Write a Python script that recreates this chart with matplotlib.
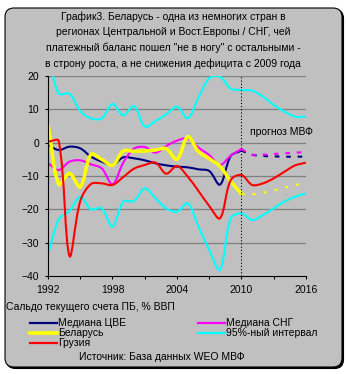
import numpy as np
import matplotlib
matplotlib.use('Agg')
import matplotlib.pyplot as plt
from matplotlib.path import Path
from matplotlib.patches import PathPatch, FancyBboxPatch
from matplotlib.lines import Line2D

plt.rcParams['font.family'] = ['Liberation Sans', 'DejaVu Sans']
plt.rcParams['lines.scale_dashes'] = False

# годы
years = list(range(1992, 2017))
years_fact = list(range(1992, 2011))
years_fc = list(range(2010, 2017))

# Медиана ЦВЕ
cee_fact = [-0.7, -2.2, -1.2, -1.7, -4.2, -5.7, -6.7, -4.4, -4.7, -5.3,
            -6.2, -6.8, -7.2, -7.4, -8.0, -8.5, -12.6, -4.0, -2.4]
cee_fc = [-2.4, -3.6, -4.0, -4.1, -4.2, -4.2, -4.2]

# Медиана СНГ
cis_fact = [-6.2, -8.2, -5.7, -5.3, -6.5, -7.7, -12.5, -6.0, -1.8, -1.3,
            -3.0, -1.0, 0.6, 1.3, -1.5, -3.7, -6.7, -3.9, -1.9]
cis_fc = [-1.9, -3.7, -3.6, -3.4, -3.2, -3.0, -2.8]

# Беларусь
blr_fact = [5.8, -12.5, -9.2, -13.3, -3.5, -5.0, -6.8, -2.5, -2.6, -2.5,
            -2.2, -1.8, -5.0, 1.8, -2.7, -4.8, -7.1, -11.6, -15.4]
blr_fc = [-15.4, -15.5, -15.0, -14.3, -13.5, -12.7, -12.0]

# 95%-ный интервал
upper = [27.0, 14.7, 14.7, 9.5, 7.3, 7.3, 11.6, 8.2, 11.0, 4.8,
         6.5, 8.5, 10.8, 7.3, 13.5, 19.3, 19.8, 16.2, 15.8, 15.6,
         13.8, 11.3, 9.3, 7.8, 7.8]
lower = [-33.7, -23.0, -20.5, -16.2, -20.0, -19.7, -25.2, -17.7, -17.5, -13.7,
         -16.7, -19.7, -20.7, -18.2, -25.2, -32.2, -38.2, -22.7, -21.2, -23.2,
         -21.7, -19.7, -17.7, -16.2, -15.2]

# Грузия
geo = [0.3, 0.5, -34.0, -17.5, -12.4, -12.2, -12.7, -10.3, -7.8, -6.7,
       -6.0, -9.3, -7.0, -10.2, -14.5, -19.0, -22.7, -11.2, -9.7, -12.7,
       -12.2, -10.7, -8.7, -6.8, -6.0]

title_lines = ['График3. Беларусь - одна из немногих стран в',
               'регионах Центральной и Вост.Европы / СНГ, чей',
               'платежный баланс пошел "не в ногу" с остальными -',
               'в строну роста, а не снижения дефицита с 2009 года']

NAVY = '#000080'
MAG = '#FF00FF'
YEL = '#FFFF00'
CYAN = '#00FFFF'
RED = '#FF0000'
BG = '#C0C0C0'

W, H = 346, 374
# пикселей на год и на процентный пункт
SX, SY = 10.75, 3.333


def smooth(xs, ys):
    # сглаженная линия (кривые Безье, касательные по длине хорд)
    p = np.column_stack([xs, ys]).astype(float)
    n = len(p)
    d = np.hypot(np.diff(p[:, 0]) * SX, np.diff(p[:, 1]) * SY)
    tang = np.zeros_like(p)
    for i in range(n):
        a = p[i - 1] if i > 0 else p[i]
        b = p[i + 1] if i < n - 1 else p[i]
        da = d[i - 1] if i > 0 else 0
        db = d[i] if i < n - 1 else 0
        tang[i] = (b - a) / (da + db)
    verts = [p[0]]
    codes = [Path.MOVETO]
    for i in range(n - 1):
        verts += [p[i] + tang[i] * d[i] / 3, p[i + 1] - tang[i + 1] * d[i] / 3, p[i + 1]]
        codes += [Path.CURVE4] * 3
    return Path(verts, codes)


def add_line(ax, xs, ys, color, lw, ls='-'):
    ax.add_patch(PathPatch(smooth(xs, ys), fill=False, edgecolor=color,
                           lw=lw, linestyle=ls, capstyle='butt', joinstyle='round'))


def fx(x):
    return x / W


def fy(y):
    return 1 - y / H


fig = plt.figure(figsize=(W / 100, H / 100), dpi=100)
fig.patch.set_facecolor('white')

# рамка
shadow = FancyBboxPatch((0.065, 0.055), 3.37, 3.59, boxstyle='round,pad=0,rounding_size=0.09',
                        transform=fig.dpi_scale_trans, facecolor='black', edgecolor='black', lw=0.8,
                        zorder=-3)
frame = FancyBboxPatch((0.05, 0.07), 3.37, 3.59, boxstyle='round,pad=0,rounding_size=0.09',
                       transform=fig.dpi_scale_trans, facecolor=BG, edgecolor='black', lw=0.8,
                       zorder=-2)
fig.add_artist(shadow)
fig.add_artist(frame)

ax = fig.add_axes([fx(48), fy(276), fx(306) - fx(48), fy(76) - fy(276)])
ax.set_facecolor(BG)
ax.patch.set_alpha(0)

ax.set_xlim(1992, 2016)
ax.set_ylim(-40, 20)
ax.set_yticks([20, 10, 0, -10, -20, -30, -40])
ax.set_xticks([1992, 1998, 2004, 2010, 2016])
ax.set_xticks([1995, 2001, 2007, 2013], minor=True)
for y in [20, 10, 0, -10, -20, -30]:
    ax.axhline(y, color='#808080', lw=0.9, zorder=0)
for s in ['top', 'right']:
    ax.spines[s].set_visible(False)
for s in ['left', 'bottom']:
    ax.spines[s].set_linewidth(0.8)
ax.tick_params(axis='both', which='both', direction='out', length=2.5, width=0.8,
               labelsize=7.5, colors='black')
ax.tick_params(axis='y', pad=4)
ax.tick_params(axis='x', pad=4)

add_line(ax, years_fact, cee_fact, NAVY, 1.5)
add_line(ax, years_fc, cee_fc, NAVY, 1.5, (0, (3.3, 4.9)))
add_line(ax, years_fact, cis_fact, MAG, 1.5)
add_line(ax, years_fc, cis_fc, MAG, 1.5, (0, (3.3, 4.9)))
add_line(ax, years_fact, blr_fact, YEL, 2.5)
add_line(ax, years_fc, blr_fc, YEL, 1.5, (0, (2.2, 5.8)))
add_line(ax, years, upper, CYAN, 1.5)
add_line(ax, years, lower, CYAN, 1.5)
add_line(ax, years, geo, RED, 1.5)

ax.axvline(2010, color='black', lw=0.8, linestyle=(0, (0.8, 1.5)))
ax.text(2010.8, 3.2, 'прогноз МВФ', fontsize=7.5, va='center', ha='left', clip_on=False)

# заголовок
for i, t in enumerate(title_lines):
    fig.text(fx(173), fy(16.5 + i * 15.8), t, fontsize=7.5, ha='center', va='center')

fig.text(fx(6), fy(306.5), 'Сальдо текущего счета ПБ, % ВВП', fontsize=7.5, ha='left', va='center')

# легенда
legend = [(30, 323, NAVY, 1.6, 'Медиана ЦВЕ'),
          (30, 332.5, YEL, 2.6, 'Беларусь'),
          (30, 343, RED, 1.6, 'Грузия'),
          (198, 323, MAG, 1.6, 'Медиана СНГ'),
          (198, 333, CYAN, 1.6, '95%-ный интервал')]
for x0, y0, c, lw, lab in legend:
    fig.add_artist(Line2D([fx(x0), fx(x0 + 27)], [fy(y0), fy(y0)], color=c, lw=lw,
                          transform=fig.transFigure))
    fig.text(fx(x0 + 28), fy(y0), lab, fontsize=7.5, ha='left', va='center')

fig.text(fx(161.5), fy(357.5), 'Источник: База данных WEO МВФ', fontsize=7.5, ha='center', va='center')

fig.savefig('out.png', dpi=100, facecolor='white')
